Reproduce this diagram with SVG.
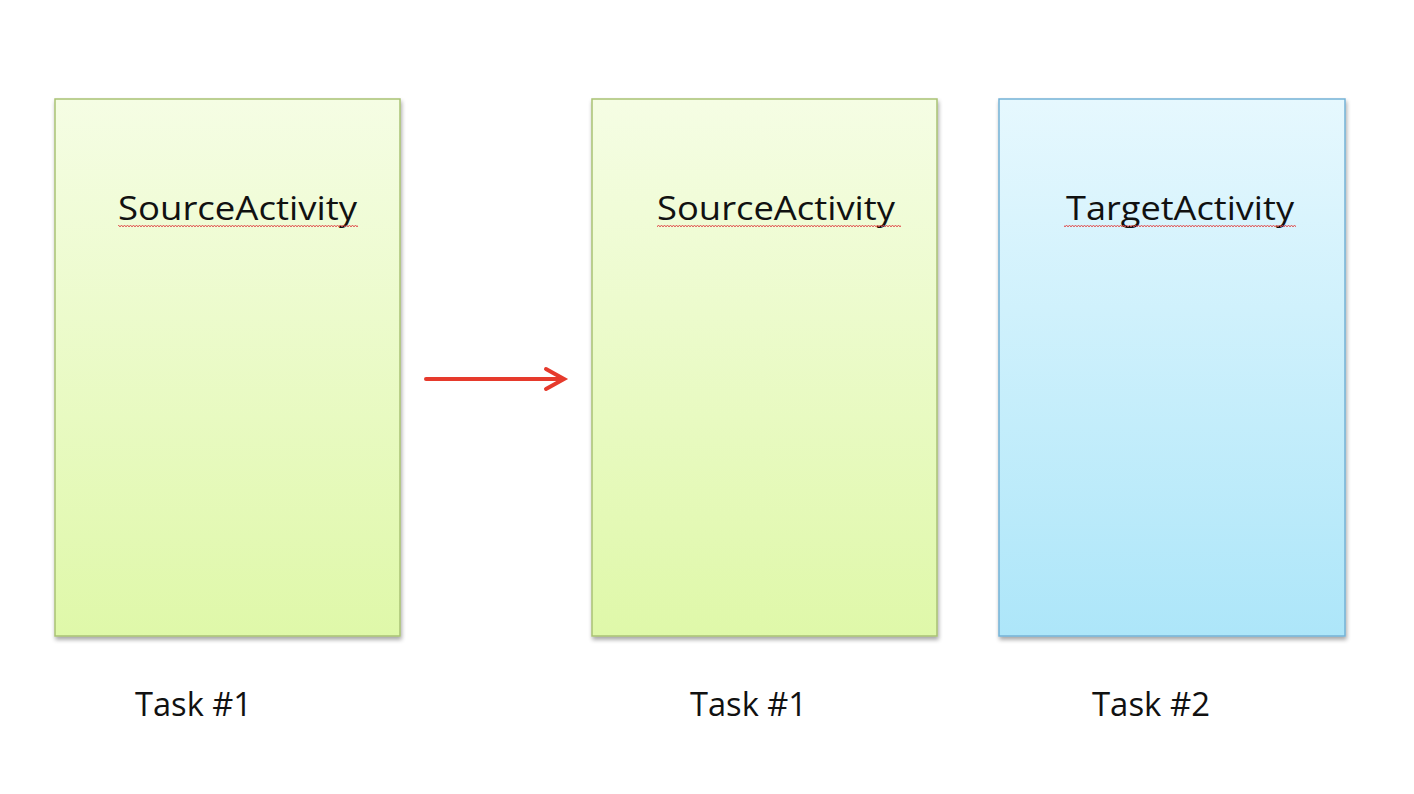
<svg xmlns="http://www.w3.org/2000/svg" width="1414" height="794" viewBox="0 0 1414 794">
<style>
.lbl{font-family:"Open Sans","Noto Sans","Liberation Sans",sans-serif;font-size:33px;fill:#111;}
.green{fill:url(#gg);stroke:#a9c274;stroke-width:1.5;}
.blue{fill:url(#gb);stroke:#74b2d6;stroke-width:1.5;}
.squig{fill:none;stroke:#e04a4a;stroke-width:1;}
.conn{stroke:#e63a2c;stroke-width:4;fill:none;stroke-linecap:round;}
</style>
<defs>
<linearGradient id="gg" x1="0" y1="0" x2="0" y2="1">
<stop offset="0" stop-color="#f5fde4"/>
<stop offset="1" stop-color="#dff8a9"/>
</linearGradient>
<linearGradient id="gb" x1="0" y1="0" x2="0" y2="1">
<stop offset="0" stop-color="#e6f8fe"/>
<stop offset="1" stop-color="#ade6f9"/>
</linearGradient>
<filter id="sh" x="-5%" y="-5%" width="110%" height="110%">
<feGaussianBlur in="SourceAlpha" stdDeviation="2"/>
<feOffset dx="1" dy="3"/>
<feComponentTransfer><feFuncA type="linear" slope="0.35"/></feComponentTransfer>
<feMerge><feMergeNode/><feMergeNode in="SourceGraphic"/></feMerge>
</filter>
<pattern id="wave" width="6" height="4" patternUnits="userSpaceOnUse">
<path d="M0 3 L1.5 1 L3 3 L4.5 1 L6 3" fill="none" stroke="#e04a4a" stroke-width="0.9"/>
</pattern>
</defs>
<rect width="1414" height="794" fill="#ffffff"/>
<g id="source1">
<rect class="green" x="55" y="99" width="345" height="537" filter="url(#sh)"/>
<text class="lbl" x="118" y="220" textLength="239" lengthAdjust="spacingAndGlyphs">SourceActivity</text>
<rect x="118" y="224" width="240" height="4" fill="url(#wave)"/>
<text class="lbl" x="135" y="716" textLength="117" lengthAdjust="spacingAndGlyphs">Task #1</text>
</g>
<g id="source2">
<rect class="green" x="592" y="99" width="345" height="537" filter="url(#sh)"/>
<text class="lbl" x="657" y="220" textLength="238" lengthAdjust="spacingAndGlyphs">SourceActivity</text>
<rect x="657" y="224" width="244" height="4" fill="url(#wave)"/>
<text class="lbl" x="690" y="716" textLength="117" lengthAdjust="spacingAndGlyphs">Task #1</text>
</g>
<g id="target">
<rect class="blue" x="999" y="99" width="346" height="537" filter="url(#sh)"/>
<text class="lbl" x="1066" y="220" textLength="228" lengthAdjust="spacingAndGlyphs">TargetActivity</text>
<rect x="1064" y="224" width="232" height="4" fill="url(#wave)"/>
<text class="lbl" x="1092" y="716" textLength="118" lengthAdjust="spacingAndGlyphs">Task #2</text>
</g>
<g id="connectors">
<path class="conn" d="M426 379 L562 379"/>
<path class="conn" d="M546 369 L564 379 L546 389"/>
</g>
</svg>
